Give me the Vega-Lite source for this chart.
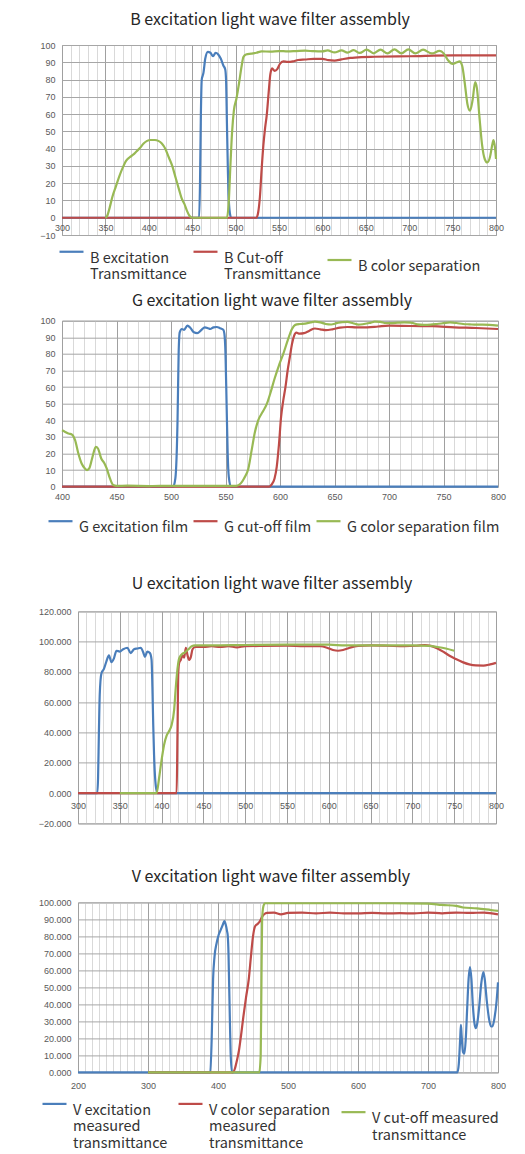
{
  "$schema": "https://vega.github.io/schema/vega-lite/v6.json",
  "padding": {"top": 11, "left": 37, "right": 0, "bottom": 6},
  "background": "white",
  "columns": 1,
  "spacing": 8.7,
  "resolve": {"scale": {"color": "independent"}, "legend": {"color": "independent"}},
  "config": {
    "view": {"stroke": "#a6a6a6"},
    "axis": {"labelFont": "Liberation Sans", "labelFontSize": 9, "labelColor": "#595959", "ticks": false, "domain": false, "gridColor": "#a6a6a6", "labelOverlap": false, "labelFlush": false},
    "title": {"font": "Noto Sans CJK SC", "fontSize": 16, "fontWeight": "normal", "color": "#262626"},
    "legend": {"labelFont": "Noto Sans CJK SC", "labelFontSize": 14.5, "labelColor": "#333333", "symbolType": "stroke", "symbolStrokeWidth": 2.2, "symbolSize": 576, "labelLimit": 300, "labelOffset": 5, "padding": 0},
    "line": {"interpolate": "monotone", "strokeWidth": 2.2}
  },
  "datasets": {
    "B_exc": [{"nm":300,"T":0},{"nm":458,"T":0},{"nm":459,"T":20},{"nm":460,"T":60},{"nm":461,"T":80},{"nm":462,"T":82},{"nm":463,"T":84},{"nm":465,"T":92},{"nm":468,"T":96},{"nm":471,"T":95.5},{"nm":474,"T":93.5},{"nm":477,"T":95.5},{"nm":480,"T":94.5},{"nm":483,"T":92},{"nm":486,"T":88},{"nm":488,"T":86},{"nm":489,"T":80},{"nm":490,"T":55},{"nm":491,"T":30},{"nm":492,"T":12},{"nm":494,"T":1},{"nm":495,"T":0},{"nm":800,"T":0}],
    "B_cut": [{"nm":300,"T":0},{"nm":524,"T":0},{"nm":526,"T":3},{"nm":528,"T":12},{"nm":530,"T":28},{"nm":532,"T":42},{"nm":534,"T":52},{"nm":536,"T":60},{"nm":538,"T":72},{"nm":540,"T":83},{"nm":542,"T":86.5},{"nm":545,"T":85},{"nm":548,"T":86},{"nm":551,"T":89},{"nm":555,"T":90.5},{"nm":560,"T":90.2},{"nm":566,"T":90.5},{"nm":572,"T":91.3},{"nm":580,"T":91.6},{"nm":590,"T":92},{"nm":600,"T":92},{"nm":607,"T":91.2},{"nm":614,"T":91},{"nm":622,"T":91.7},{"nm":632,"T":92.5},{"nm":645,"T":93},{"nm":660,"T":93.2},{"nm":700,"T":93.5},{"nm":750,"T":94},{"nm":800,"T":94}],
    "B_sep": [{"nm":350,"T":0},{"nm":352,"T":1},{"nm":355,"T":6},{"nm":358,"T":12},{"nm":362,"T":18},{"nm":366,"T":24},{"nm":370,"T":29},{"nm":374,"T":33},{"nm":378,"T":35},{"nm":382,"T":36.5},{"nm":386,"T":38.5},{"nm":390,"T":40.5},{"nm":394,"T":43},{"nm":398,"T":44.5},{"nm":402,"T":45},{"nm":407,"T":45},{"nm":411,"T":44.5},{"nm":415,"T":43},{"nm":419,"T":40},{"nm":423,"T":35},{"nm":427,"T":30},{"nm":431,"T":23},{"nm":435,"T":16},{"nm":438,"T":11},{"nm":441,"T":8},{"nm":444,"T":4},{"nm":447,"T":1},{"nm":450,"T":0},{"nm":490,"T":0},{"nm":492,"T":8},{"nm":494,"T":30},{"nm":496,"T":50},{"nm":498,"T":62},{"nm":501,"T":69},{"nm":504,"T":78},{"nm":507,"T":88},{"nm":509,"T":93},{"nm":512,"T":94.5},{"nm":518,"T":95},{"nm":524,"T":95.5},{"nm":530,"T":96.3},{"nm":540,"T":96.2},{"nm":550,"T":96.5},{"nm":560,"T":96.3},{"nm":570,"T":96.5},{"nm":580,"T":96.7},{"nm":590,"T":96.4},{"nm":600,"T":96.3},{"nm":606,"T":96.9},{"nm":614,"T":95.7},{"nm":622,"T":96.9},{"nm":629,"T":95.6},{"nm":636,"T":97},{"nm":643,"T":95.4},{"nm":651,"T":97.3},{"nm":659,"T":95.2},{"nm":667,"T":97.3},{"nm":675,"T":95.1},{"nm":683,"T":97.5},{"nm":691,"T":95.1},{"nm":699,"T":97.5},{"nm":707,"T":95.1},{"nm":716,"T":97.3},{"nm":726,"T":95.1},{"nm":735,"T":96.6},{"nm":740,"T":95},{"nm":745,"T":91},{"nm":750,"T":89},{"nm":755,"T":90},{"nm":758,"T":90.5},{"nm":761,"T":88},{"nm":764,"T":78},{"nm":767,"T":66},{"nm":770,"T":62},{"nm":773,"T":68},{"nm":776,"T":78.5},{"nm":778,"T":75},{"nm":781,"T":58},{"nm":784,"T":42},{"nm":787,"T":34},{"nm":790,"T":32},{"nm":793,"T":35},{"nm":796,"T":43},{"nm":797,"T":45},{"nm":799,"T":40},{"nm":800,"T":34}],
    "G_exc": [{"nm":400,"T":0},{"nm":502,"T":0},{"nm":504,"T":5},{"nm":506,"T":40},{"nm":507,"T":80},{"nm":508,"T":93},{"nm":510,"T":95},{"nm":512,"T":94.5},{"nm":515,"T":97},{"nm":518,"T":95.5},{"nm":521,"T":93},{"nm":524,"T":92.5},{"nm":528,"T":94.5},{"nm":531,"T":96},{"nm":534,"T":95.5},{"nm":536,"T":95},{"nm":539,"T":96},{"nm":542,"T":96.2},{"nm":545,"T":95.5},{"nm":548,"T":94.5},{"nm":549,"T":92},{"nm":550,"T":80},{"nm":551,"T":50},{"nm":552,"T":20},{"nm":553,"T":6},{"nm":555,"T":0},{"nm":800,"T":0}],
    "G_cut": [{"nm":400,"T":0},{"nm":590,"T":0},{"nm":592,"T":1},{"nm":595,"T":5},{"nm":597,"T":12},{"nm":599,"T":25},{"nm":601,"T":42},{"nm":603,"T":52},{"nm":605,"T":60},{"nm":607,"T":70},{"nm":609,"T":78},{"nm":611,"T":86},{"nm":613,"T":91},{"nm":615,"T":92.8},{"nm":618,"T":92.2},{"nm":622,"T":92.5},{"nm":627,"T":94},{"nm":632,"T":95.3},{"nm":637,"T":94.8},{"nm":642,"T":94.3},{"nm":648,"T":94.8},{"nm":655,"T":95.8},{"nm":662,"T":96.2},{"nm":670,"T":96},{"nm":680,"T":96},{"nm":690,"T":96.5},{"nm":700,"T":97},{"nm":720,"T":96.8},{"nm":740,"T":96.7},{"nm":760,"T":96},{"nm":780,"T":95.6},{"nm":800,"T":95}],
    "G_sep": [{"nm":400,"T":34},{"nm":403,"T":33},{"nm":406,"T":32},{"nm":409,"T":31.5},{"nm":412,"T":28},{"nm":415,"T":20},{"nm":418,"T":14},{"nm":421,"T":11},{"nm":423,"T":10},{"nm":425,"T":11},{"nm":428,"T":18},{"nm":431,"T":24},{"nm":433,"T":23},{"nm":436,"T":17},{"nm":439,"T":14},{"nm":441,"T":11},{"nm":444,"T":5},{"nm":447,"T":1},{"nm":450,"T":0.5},{"nm":460,"T":0.6},{"nm":480,"T":0.4},{"nm":500,"T":0.5},{"nm":530,"T":0.5},{"nm":560,"T":0.5},{"nm":564,"T":2},{"nm":567,"T":5},{"nm":571,"T":11},{"nm":574,"T":22},{"nm":577,"T":33},{"nm":580,"T":40},{"nm":584,"T":45},{"nm":588,"T":50},{"nm":591,"T":56},{"nm":595,"T":65},{"nm":599,"T":73},{"nm":603,"T":80},{"nm":607,"T":88},{"nm":611,"T":95},{"nm":614,"T":97.5},{"nm":618,"T":98},{"nm":623,"T":98.2},{"nm":628,"T":99},{"nm":632,"T":99.5},{"nm":637,"T":99},{"nm":642,"T":98},{"nm":647,"T":97.7},{"nm":652,"T":98.5},{"nm":657,"T":99.2},{"nm":662,"T":99.3},{"nm":667,"T":98.5},{"nm":672,"T":97.6},{"nm":677,"T":98},{"nm":682,"T":98.6},{"nm":687,"T":99.4},{"nm":692,"T":99.3},{"nm":697,"T":98.6},{"nm":702,"T":98.5},{"nm":708,"T":98.8},{"nm":714,"T":99},{"nm":720,"T":98.8},{"nm":726,"T":97.8},{"nm":732,"T":97.5},{"nm":738,"T":97.6},{"nm":744,"T":98},{"nm":750,"T":98.5},{"nm":756,"T":99},{"nm":762,"T":98.6},{"nm":768,"T":98},{"nm":774,"T":97.8},{"nm":780,"T":97.6},{"nm":786,"T":97.6},{"nm":792,"T":97.5},{"nm":800,"T":97}],
    "U_exc": [{"nm":300,"T":0},{"nm":323,"T":0},{"nm":324,"T":10},{"nm":325,"T":40},{"nm":326,"T":65},{"nm":328,"T":79},{"nm":331,"T":82},{"nm":334,"T":87},{"nm":337,"T":91},{"nm":340,"T":86.5},{"nm":343,"T":89},{"nm":346,"T":94},{"nm":350,"T":93.5},{"nm":354,"T":95},{"nm":359,"T":96},{"nm":363,"T":92.5},{"nm":367,"T":95},{"nm":371,"T":95.5},{"nm":375,"T":96},{"nm":378,"T":93},{"nm":380,"T":90},{"nm":383,"T":93.5},{"nm":386,"T":92.5},{"nm":388,"T":88},{"nm":389,"T":70},{"nm":390,"T":45},{"nm":391,"T":25},{"nm":393,"T":5},{"nm":395,"T":0},{"nm":800,"T":0}],
    "U_cut": [{"nm":300,"T":0},{"nm":418,"T":0},{"nm":419,"T":40},{"nm":420,"T":80},{"nm":421,"T":86},{"nm":423,"T":88},{"nm":425,"T":91},{"nm":427,"T":89.5},{"nm":429,"T":96},{"nm":431,"T":91},{"nm":433,"T":88},{"nm":435,"T":90},{"nm":437,"T":95},{"nm":440,"T":96.5},{"nm":450,"T":96.5},{"nm":460,"T":97},{"nm":470,"T":96.5},{"nm":480,"T":97},{"nm":490,"T":96.3},{"nm":500,"T":97},{"nm":520,"T":97.2},{"nm":550,"T":97.3},{"nm":570,"T":97},{"nm":590,"T":97},{"nm":598,"T":96},{"nm":605,"T":94.5},{"nm":611,"T":94},{"nm":617,"T":94.5},{"nm":625,"T":96},{"nm":635,"T":97.2},{"nm":650,"T":97.5},{"nm":670,"T":97.3},{"nm":690,"T":97},{"nm":705,"T":97.3},{"nm":715,"T":97.8},{"nm":722,"T":97.2},{"nm":730,"T":95.5},{"nm":738,"T":93},{"nm":745,"T":90.5},{"nm":752,"T":88.5},{"nm":760,"T":86.5},{"nm":768,"T":85},{"nm":776,"T":84.3},{"nm":785,"T":84.2},{"nm":793,"T":85},{"nm":800,"T":86}],
    "U_sep": [{"nm":350,"T":0},{"nm":394,"T":0},{"nm":397,"T":10},{"nm":400,"T":22},{"nm":403,"T":32},{"nm":406,"T":38},{"nm":409,"T":41},{"nm":412,"T":45},{"nm":415,"T":55},{"nm":417,"T":70},{"nm":419,"T":82},{"nm":421,"T":89},{"nm":424,"T":91.5},{"nm":428,"T":93},{"nm":432,"T":95},{"nm":436,"T":97},{"nm":440,"T":97.5},{"nm":460,"T":97.5},{"nm":500,"T":97.8},{"nm":550,"T":98},{"nm":600,"T":98},{"nm":620,"T":97.5},{"nm":650,"T":97.5},{"nm":700,"T":97.5},{"nm":720,"T":97.2},{"nm":730,"T":96.5},{"nm":740,"T":95.5},{"nm":750,"T":94}],
    "V_exc": [{"nm":200,"T":0},{"nm":389,"T":0},{"nm":391,"T":20},{"nm":393,"T":55},{"nm":395,"T":68},{"nm":398,"T":76},{"nm":401,"T":81},{"nm":404,"T":84},{"nm":407,"T":87},{"nm":409,"T":89},{"nm":411,"T":87},{"nm":413,"T":83},{"nm":414,"T":80},{"nm":415,"T":70},{"nm":416,"T":50},{"nm":417,"T":30},{"nm":418,"T":12},{"nm":420,"T":0},{"nm":742,"T":0},{"nm":744,"T":5},{"nm":746,"T":20},{"nm":747,"T":28},{"nm":748,"T":22},{"nm":750,"T":12},{"nm":752,"T":11},{"nm":754,"T":20},{"nm":756,"T":38},{"nm":758,"T":55},{"nm":760,"T":62},{"nm":762,"T":55},{"nm":764,"T":40},{"nm":766,"T":30},{"nm":768,"T":26},{"nm":770,"T":28},{"nm":773,"T":38},{"nm":776,"T":52},{"nm":779,"T":59},{"nm":781,"T":55},{"nm":784,"T":42},{"nm":787,"T":32},{"nm":790,"T":27},{"nm":792,"T":27},{"nm":795,"T":32},{"nm":798,"T":42},{"nm":800,"T":53}],
    "V_sep": [{"nm":300,"T":0},{"nm":421,"T":0},{"nm":424,"T":2},{"nm":427,"T":7},{"nm":430,"T":13},{"nm":433,"T":22},{"nm":436,"T":32},{"nm":440,"T":44},{"nm":444,"T":55},{"nm":447,"T":68},{"nm":450,"T":80},{"nm":453,"T":86},{"nm":457,"T":87.5},{"nm":460,"T":89},{"nm":463,"T":91.5},{"nm":466,"T":93},{"nm":470,"T":93.8},{"nm":480,"T":94},{"nm":490,"T":93},{"nm":500,"T":93.8},{"nm":520,"T":94},{"nm":540,"T":93.5},{"nm":560,"T":94},{"nm":580,"T":93.5},{"nm":600,"T":93.5},{"nm":620,"T":93.8},{"nm":640,"T":93.5},{"nm":660,"T":93.7},{"nm":680,"T":93.5},{"nm":700,"T":94},{"nm":720,"T":93.6},{"nm":740,"T":94},{"nm":760,"T":93.8},{"nm":780,"T":94},{"nm":800,"T":93}],
    "V_cut": [{"nm":300,"T":0},{"nm":459,"T":0},{"nm":461,"T":10},{"nm":462,"T":50},{"nm":463,"T":90},{"nm":465,"T":98},{"nm":467,"T":99.5},{"nm":500,"T":99.5},{"nm":600,"T":99.5},{"nm":650,"T":99.5},{"nm":700,"T":99.3},{"nm":720,"T":98.5},{"nm":740,"T":98},{"nm":750,"T":97},{"nm":770,"T":96.5},{"nm":790,"T":95.5},{"nm":800,"T":95}]
  },
  "concat": [
    {
      "width": 434, "height": 190,
      "title": {"text": "B excitation light wave filter assembly", "offset": 13, "dx": -9},
      "encoding": {
        "x": {"field": "nm", "type": "quantitative", "scale": {"domain": [300, 800], "nice": false, "zero": false},
          "axis": {"title": null, "offset": -17.3, "labelPadding": 6,
            "values": [300,310,320,330,340,350,360,370,380,390,400,410,420,430,440,450,460,470,480,490,500,510,520,530,540,550,560,570,580,590,600,610,620,630,640,650,660,670,680,690,700,710,720,730,740,750,760,770,780,790,800],
            "labelExpr": "datum.value % 50 == 0 ? datum.label : ''",
            "gridColor": {"condition": {"test": "datum.value % 50 == 0", "value": "#a0a0a0"}, "value": "#d9d9d9"}}},
        "y": {"field": "T", "type": "quantitative", "scale": {"domain": [-10, 100], "nice": false, "zero": false},
          "axis": {"title": null, "labelPadding": 7, "values": [-10,0,10,20,30,40,50,60,70,80,90,100]}}
      },
      "layer": [
        {"data": {"name": "B_exc"}, "mark": "line", "encoding": {"color": {"datum": "B excitation Transmittance", "type": "nominal",
          "scale": {"domain": ["B excitation Transmittance", "B Cut-off Transmittance", "B color separation"], "range": ["#4a7ebb", "#be4b48", "#98b954"]},
          "legend": {"orient": "none", "legendX": -4, "legendY": 193, "direction": "horizontal", "columnPadding": 2, "title": null, "labelBaseline": "top",
            "labelExpr": "datum.label == 'B excitation Transmittance' ? ['B excitation', 'Transmittance'] : datum.label == 'B Cut-off Transmittance' ? ['B Cut-off', 'Transmittance'] : datum.label",
            "encode": {"labels": {"update": {"dy": {"value": -13}, "lineHeight": {"value": 18.5}}}}}}}},
        {"data": {"name": "B_cut"}, "mark": "line", "encoding": {"color": {"datum": "B Cut-off Transmittance", "type": "nominal"}}},
        {"data": {"name": "B_sep"}, "mark": "line", "encoding": {"color": {"datum": "B color separation", "type": "nominal"}}}
      ]
    },
    {
      "width": 436, "height": 166,
      "title": {"text": "G excitation light wave filter assembly", "offset": 8, "dx": -8},
      "encoding": {
        "x": {"field": "nm", "type": "quantitative", "scale": {"domain": [400, 800], "nice": false, "zero": false},
          "axis": {"title": null, "labelPadding": 6,
            "values": [400,410,420,430,440,450,460,470,480,490,500,510,520,530,540,550,560,570,580,590,600,610,620,630,640,650,660,670,680,690,700,710,720,730,740,750,760,770,780,790,800],
            "labelExpr": "datum.value % 50 == 0 ? datum.label : ''",
            "gridColor": {"condition": {"test": "datum.value % 50 == 0", "value": "#a0a0a0"}, "value": "#d9d9d9"}}},
        "y": {"field": "T", "type": "quantitative", "scale": {"domain": [0, 100], "nice": false, "zero": false},
          "axis": {"title": null, "labelPadding": 7, "values": [0,10,20,30,40,50,60,70,80,90,100]}}
      },
      "layer": [
        {"data": {"name": "G_exc"}, "mark": "line", "encoding": {"color": {"datum": "G excitation film", "type": "nominal",
          "scale": {"domain": ["G excitation film", "G cut-off film", "G color separation film"], "range": ["#4a7ebb", "#be4b48", "#98b954"]},
          "legend": {"orient": "none", "legendX": -15, "legendY": 187, "direction": "horizontal", "columnPadding": 0, "title": null, "labelBaseline": "top",
            "encode": {"labels": {"update": {"dy": {"value": -12}}}}}}}},
        {"data": {"name": "G_cut"}, "mark": "line", "encoding": {"color": {"datum": "G cut-off film", "type": "nominal"}}},
        {"data": {"name": "G_sep"}, "mark": "line", "encoding": {"color": {"datum": "G color separation film", "type": "nominal"}}}
      ]
    },
    {
      "spacing": -26,
      "resolve": {"scale": {"color": "independent"}, "legend": {"color": "independent"}},
      "hconcat": [
        {"width": 1, "height": 1, "data": {"values": []}, "mark": {"type": "point", "opacity": 0}, "view": {"stroke": null}},
        {
          "spacing": 20,
          "resolve": {"scale": {"color": "independent"}, "legend": {"color": "independent"}},
          "vconcat": [
            {
              "width": 418, "height": 212,
              "title": {"text": ["", "U excitation light wave filter assembly"], "offset": 15, "lineHeight": 31.3, "dx": -15},
              "encoding": {
                "x": {"field": "nm", "type": "quantitative", "scale": {"domain": [300, 800], "nice": false, "zero": false},
                  "axis": {"title": null, "offset": -30.3, "labelPadding": 8,
                    "values": [300,310,320,330,340,350,360,370,380,390,400,410,420,430,440,450,460,470,480,490,500,510,520,530,540,550,560,570,580,590,600,610,620,630,640,650,660,670,680,690,700,710,720,730,740,750,760,770,780,790,800],
                    "labelExpr": "datum.value % 50 == 0 ? datum.label : ''",
                    "gridColor": {"condition": {"test": "datum.value % 50 == 0", "value": "#a0a0a0"}, "value": "#d9d9d9"}}},
                "y": {"field": "T", "type": "quantitative", "scale": {"domain": [-20, 120], "nice": false, "zero": false},
                  "axis": {"title": null, "labelPadding": 7, "format": ".3f", "values": [-20,0,20,40,60,80,100,120]}}
              },
              "layer": [
                {"data": {"name": "U_exc"}, "mark": "line", "encoding": {"color": {"datum": "U excitation", "type": "nominal",
                  "scale": {"domain": ["U excitation", "U cut-off", "U color separation"], "range": ["#4a7ebb", "#be4b48", "#98b954"]}, "legend": null}}},
                {"data": {"name": "U_cut"}, "mark": "line", "encoding": {"color": {"datum": "U cut-off", "type": "nominal"}}},
                {"data": {"name": "U_sep"}, "mark": "line", "encoding": {"color": {"datum": "U color separation", "type": "nominal"}}}
              ]
            },
            {
              "width": 420, "height": 170,
              "title": {"text": ["", "V excitation light wave filter assembly"], "offset": 13, "lineHeight": 18.6, "dx": -17},
              "encoding": {
                "x": {"field": "nm", "type": "quantitative", "scale": {"domain": [200, 800], "nice": false, "zero": false},
                  "axis": {"title": null, "labelPadding": 9,
                    "values": [200,210,220,230,240,250,260,270,280,290,300,310,320,330,340,350,360,370,380,390,400,410,420,430,440,450,460,470,480,490,500,510,520,530,540,550,560,570,580,590,600,610,620,630,640,650,660,670,680,690,700,710,720,730,740,750,760,770,780,790,800],
                    "labelExpr": "datum.value % 100 == 0 ? datum.label : ''",
                    "gridColor": {"condition": {"test": "datum.value % 100 == 0", "value": "#a0a0a0"}, "value": "#d9d9d9"}}},
                "y": {"field": "T", "type": "quantitative", "scale": {"domain": [0, 100], "nice": false, "zero": false},
                  "axis": {"title": null, "labelPadding": 7, "format": ".3f", "values": [0,10,20,30,40,50,60,70,80,90,100]}}
              },
              "layer": [
                {"data": {"name": "V_exc"}, "mark": "line", "encoding": {"color": {"datum": "V excitation measured transmittance", "type": "nominal",
                  "scale": {"domain": ["V excitation measured transmittance", "V color separation measured transmittance", "V cut-off measured transmittance"], "range": ["#4a7ebb", "#be4b48", "#98b954"]},
                  "legend": {"orient": "none", "legendX": -37, "legendY": 188, "direction": "horizontal", "columnPadding": 6, "title": null, "labelBaseline": "top",
                    "labelExpr": "datum.label == 'V excitation measured transmittance' ? ['V excitation', 'measured', 'transmittance'] : datum.label == 'V color separation measured transmittance' ? ['V color separation', 'measured', 'transmittance'] : ['V cut-off measured', 'transmittance']",
                    "encode": {"labels": {"update": {"dy": {"value": -12}, "lineHeight": {"value": 17.5}}}}}}}},
                {"data": {"name": "V_sep"}, "mark": "line", "encoding": {"color": {"datum": "V color separation measured transmittance", "type": "nominal"}}},
                {"data": {"name": "V_cut"}, "mark": "line", "encoding": {"color": {"datum": "V cut-off measured transmittance", "type": "nominal"}}}
              ]
            }
          ]
        }
      ]
    }
  ]
}
